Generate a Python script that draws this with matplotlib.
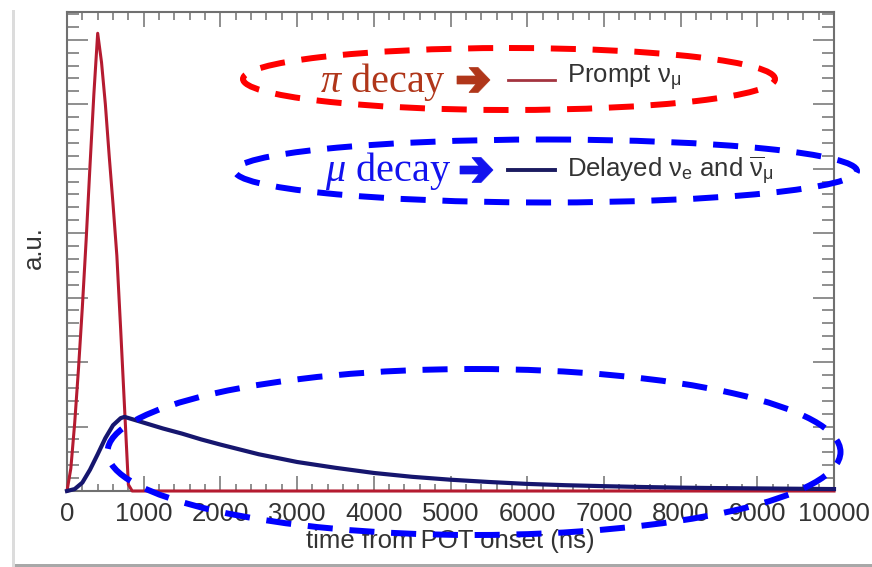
import matplotlib
matplotlib.use('Agg')
import matplotlib.pyplot as plt
from matplotlib.patches import Ellipse, Rectangle, Polygon
from matplotlib.lines import Line2D
from matplotlib.transforms import Affine2D
from matplotlib.ticker import MultipleLocator, NullFormatter

plt.rcParams['font.family'] = ['Liberation Sans', 'DejaVu Sans']
plt.rcParams['mathtext.fontset'] = 'custom'
plt.rcParams['mathtext.rm'] = 'Liberation Sans'
plt.rcParams['mathtext.sf'] = 'Liberation Sans'
plt.rcParams['mathtext.it'] = 'Liberation Serif:italic'

# prompt (pion decay) neutrino timing, arbitrary units
prompt_t = [0, 50, 100, 150, 200, 250, 300, 350, 400, 450, 500, 550, 600,
            650, 700, 750, 800, 850, 10000]
prompt_v = [0.0, 0.35, 1.05, 1.9, 2.85, 3.9, 5.05, 6.15, 7.10, 6.65, 6.0,
            5.2, 4.45, 3.65, 2.5, 1.3, 0.1, 0.0, 0.0]

# delayed (muon decay) neutrino timing
delayed_t = [0, 100, 200, 300, 400, 500, 600, 700, 750, 1000, 1250, 1500,
             1750, 2000, 2500, 3000, 3500, 4000, 4500, 5000, 5500, 6000,
             6500, 7000, 7500, 8000, 8500, 9000, 9500, 10000]
delayed_v = [0.0, 0.03, 0.13, 0.33, 0.57, 0.82, 1.02, 1.13, 1.15, 1.06, 0.97,
             0.89, 0.80, 0.72, 0.57, 0.45, 0.36, 0.28, 0.22, 0.175, 0.14,
             0.11, 0.09, 0.075, 0.062, 0.052, 0.045, 0.04, 0.035, 0.03]

x_ticks = [0, 1000, 2000, 3000, 4000, 5000, 6000, 7000, 8000, 9000, 10000]
x_label = "time from POT onset (ns)"
y_label = "a.u."

W, H = 872, 567
fig = plt.figure(figsize=(W / 100, H / 100), dpi=100)
ax = fig.add_axes([67 / W, 1 - 491 / H, 767 / W, 479 / H])

# pixel coordinates measured from the top-left corner
px = Affine2D().scale(1 / W, -1 / H).translate(0, 1) + fig.transFigure

ax.plot(prompt_t, prompt_v, color='#b51b30', lw=2.2, zorder=3, clip_on=False)
ax.plot(delayed_t, delayed_v, color='#16166e', lw=3.0, zorder=4, clip_on=False)

ax.set_xlim(0, 10000)
ax.set_ylim(0, 7.43)
ax.set_xticks(x_ticks)
ax.set_xticklabels([str(t) for t in x_ticks])
ax.xaxis.set_minor_locator(MultipleLocator(200))
ax.yaxis.set_major_locator(MultipleLocator(1))
ax.yaxis.set_minor_locator(MultipleLocator(0.2))
ax.yaxis.set_major_formatter(NullFormatter())

tick_col = '#707070'
ax.tick_params(which='both', direction='in', top=True, right=True,
               color=tick_col, width=1.1)
ax.tick_params(axis='x', which='major', length=10.8, pad=8,
               labelsize=18.5, labelcolor='#333333')
ax.tick_params(axis='x', which='minor', length=5.4)
ax.tick_params(axis='y', which='major', length=15)
ax.tick_params(axis='y', which='minor', length=8.6)
for sp in ax.spines.values():
    sp.set_color(tick_col)
    sp.set_linewidth(1.5)

fig.text(450, 548, x_label, transform=px, fontsize=18.5, color='#333333',
         ha='center', va='baseline')
fig.text(41, 248, y_label, transform=px, fontsize=18.5, color='#333333',
         rotation=90, rotation_mode='anchor', ha='center', va='baseline')

# legend entries
fig.add_artist(Line2D([508, 555], [80, 80], transform=px, color='#a33440', lw=2.0))
fig.add_artist(Line2D([508, 555], [170, 170], transform=px, color='#1b1b60', lw=2.8))
fig.text(567, 83, r'Prompt $\mathrm{\nu}_{\mathrm{\mu}}$', transform=px,
         fontsize=18.5, color='#333333', va='baseline')
fig.text(567, 177, r'Delayed $\mathrm{\nu}_{\mathrm{e}}$ and $\overline{\mathrm{\nu}}_{\mathrm{\mu}}$',
         transform=px, fontsize=18.5, color='#333333', va='baseline')

# decay annotations
pi_col = '#b0361a'
mu_col = '#1212ee'
fig.text(320, 92, r'$\pi$ decay', transform=px, fontsize=29,
         family='Liberation Serif', color=pi_col, va='baseline')
fig.text(325, 181, r'$\mu$ decay', transform=px, fontsize=29,
         family='Liberation Serif', color=mu_col, va='baseline')


def block_arrow(x0, y0, col):
    # thick shaft with a chevron head, 33 px long
    pts = [(0, -4), (19, -4), (12, -12.5), (21, -12.5), (33, 0),
           (21, 12.5), (12, 12.5), (19, 4), (0, 4)]
    fig.add_artist(Polygon([(x0 + a, y0 + b) for a, b in pts], closed=True,
                           transform=px, facecolor=col, edgecolor=col, lw=0.5))


block_arrow(457, 80, pi_col)
block_arrow(460, 170, mu_col)

# dashed highlight ellipses
dash = (0, (4.2, 2.8))
for (cx, cy, w, h, col) in [(509, 79, 532, 62, '#ff0000'),
                            (546, 171, 622, 63, '#0000ff'),
                            (474, 452, 733, 166, '#0000ff')]:
    fig.add_artist(Ellipse((cx, cy), w, h, transform=px, fill=False,
                           edgecolor=col, lw=4.3, linestyle=dash, zorder=10))

# frame edges around the picture
fig.add_artist(Rectangle((12, 10), 3, 557, transform=px, color='#dcdcdc', lw=0))
fig.add_artist(Rectangle((15, 564), 857, 3, transform=px, color='#a8a8a8', lw=0))

fig.savefig('out.png', dpi=100)
